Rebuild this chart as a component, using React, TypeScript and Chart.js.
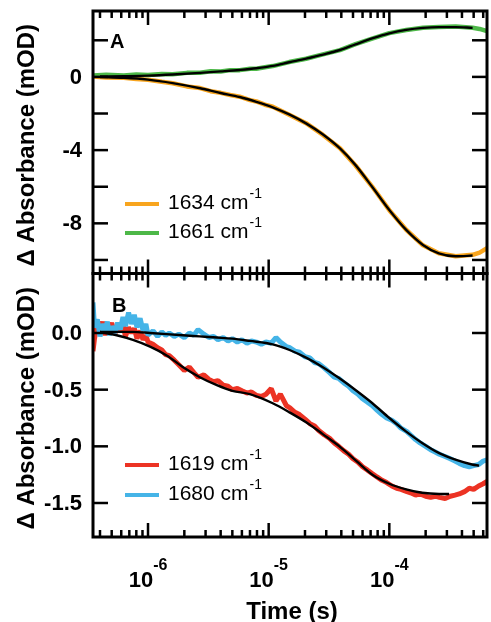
import React, { useEffect, useRef } from "react";
import { Chart, registerables } from "chart.js";
Chart.register(...registerables);

// ---------- axis ranges ----------
const X_MIN = 3.5e-7;
const X_MAX = 6.45e-4;
const Y_A_MIN = -10.74;
const Y_A_MAX = 3.6;
const Y_B_MIN = -1.8;
const Y_B_MAX = 0.525;

// ---------- tick values & labels ----------
const xMajorTicks = [1e-6, 1e-5, 1e-4];
const xMajorExponents = ["-6", "-5", "-4"];
const xMinorTicks = [
  4e-7, 5e-7, 6e-7, 7e-7, 8e-7, 9e-7,
  2e-6, 3e-6, 4e-6, 5e-6, 6e-6, 7e-6, 8e-6, 9e-6,
  2e-5, 3e-5, 4e-5, 5e-5, 6e-5, 7e-5, 8e-5, 9e-5,
  2e-4, 3e-4, 4e-4, 5e-4, 6e-4,
];
const yTicksA = [-10, -8, -6, -4, -2, 0, 2];
const yLabelValuesA = [-8, -4, 0];
const yLabelTextsA = ["-8", "-4", "0"];
const yTicksB = [-1.5, -1.0, -0.5, 0];
const yLabelValuesB = [-1.5, -1.0, -0.5, 0];
const yLabelTextsB = ["-1.5", "-1.0", "-0.5", "0.0"];

// ---------- panel A data ----------
const timeA = [
  3.5e-7, 4.5e-7, 6.3e-7, 8e-7, 1e-6, 1.3e-6, 1.6e-6, 2.1e-6, 2.7e-6, 3.3e-6,
  4e-6, 4.8e-6, 5.75e-6, 7e-6, 7.9e-6, 9.3e-6, 1.08e-5, 1.48e-5, 2.04e-5, 2.82e-5,
  3.9e-5, 5.25e-5, 7.2e-5, 1e-4, 1.38e-4, 1.9e-4, 2.57e-4, 3.55e-4, 4.9e-4, 5.6e-4, 6.45e-4,
];
const data1634 = [
  0.02, -0.03, -0.05, -0.12, -0.16, -0.27, -0.35, -0.52, -0.61, -0.78,
  -0.87, -0.99, -1.08, -1.27, -1.34, -1.52, -1.63, -2.07, -2.53, -3.17,
  -3.9, -4.84, -5.99, -7.28, -8.35, -9.2, -9.63, -9.8, -9.72, -9.6, -9.36,
];
const data1661 = [
  0.08, 0.12, 0.08, 0.13, 0.1, 0.16, 0.15, 0.22, 0.23, 0.31,
  0.3, 0.37, 0.37, 0.44, 0.45, 0.53, 0.59, 0.81, 0.99, 1.23,
  1.46, 1.79, 2.09, 2.39, 2.56, 2.69, 2.72, 2.75, 2.68, 2.62, 2.5,
];
const timeFitA = [
  4e-7, 6.3e-7, 1e-6, 1.6e-6, 2.7e-6, 4e-6, 5.75e-6, 7.9e-6, 1.08e-5, 1.48e-5,
  2.04e-5, 2.82e-5, 3.9e-5, 5.25e-5, 7.2e-5, 1e-4, 1.38e-4, 1.9e-4, 2.57e-4, 3.55e-4, 4.9e-4,
];
const fit1634 = [
  -0.01, -0.05, -0.15, -0.34, -0.62, -0.88, -1.1, -1.36, -1.66, -2.05,
  -2.54, -3.15, -3.91, -4.82, -6.0, -7.27, -8.36, -9.18, -9.64, -9.8, -9.76,
];
const fit1661 = [
  0.02, 0.04, 0.07, 0.13, 0.22, 0.3, 0.38, 0.47, 0.6, 0.8,
  1.0, 1.22, 1.47, 1.78, 2.1, 2.38, 2.57, 2.68, 2.72, 2.72, 2.68,
];

// ---------- panel B data ----------
const timeB = [
  3.5e-7, 3.6e-7, 3.8e-7, 4.0e-7, 4.2e-7, 4.4e-7, 4.6e-7, 4.8e-7, 5.0e-7, 5.3e-7,
  5.6e-7, 5.9e-7, 6.2e-7, 6.5e-7, 6.9e-7, 7.3e-7, 7.7e-7, 8.1e-7, 8.6e-7, 9.1e-7,
  9.6e-7, 1.0e-6, 1.1e-6, 1.2e-6, 1.3e-6, 1.4e-6, 1.5e-6, 1.65e-6, 1.8e-6, 2.0e-6,
  2.2e-6, 2.4e-6, 2.6e-6, 2.9e-6, 3.2e-6, 3.5e-6, 3.8e-6, 4.2e-6, 4.6e-6, 5.0e-6,
  5.5e-6, 6.0e-6, 6.6e-6, 7.2e-6, 7.9e-6, 8.7e-6, 9.5e-6, 1.05e-5, 1.15e-5, 1.25e-5,
  1.4e-5, 1.5e-5, 1.65e-5, 1.8e-5, 2.0e-5, 2.2e-5, 2.4e-5, 2.6e-5, 2.9e-5, 3.2e-5,
  3.5e-5, 3.8e-5, 4.2e-5, 4.6e-5, 5.0e-5, 5.5e-5, 6.0e-5, 6.6e-5, 7.2e-5, 7.9e-5,
  8.7e-5, 9.5e-5, 1.05e-4, 1.15e-4, 1.25e-4, 1.4e-4, 1.5e-4, 1.65e-4, 1.8e-4, 2.0e-4,
  2.2e-4, 2.4e-4, 2.6e-4, 2.9e-4, 3.2e-4, 3.5e-4, 3.8e-4, 4.2e-4, 4.6e-4, 5.0e-4,
  5.5e-4, 6.0e-4, 6.45e-4,
];
const data1680 = [
  0.27, 0.05, 0.12, -0.03, 0.08, 0.02, 0.1, -0.02, 0.06, 0.0,
  0.09, 0.03, 0.14, 0.06, 0.18, 0.08, 0.16, 0.05, 0.13, 0.02,
  0.08, -0.02, 0.02, -0.03, 0.01, -0.02, 0.0, -0.03, -0.01, -0.04,
  0.0, -0.02, 0.03, -0.01, -0.04, -0.03, -0.06, -0.04, -0.07, -0.05,
  -0.08, -0.06, -0.09, -0.07, -0.08, -0.1, -0.08, -0.09, -0.04, -0.08,
  -0.12, -0.13, -0.16, -0.17, -0.21, -0.22, -0.26, -0.27, -0.31, -0.35,
  -0.39, -0.4, -0.44, -0.47, -0.51, -0.54, -0.58, -0.61, -0.64, -0.68,
  -0.72, -0.75, -0.77, -0.8, -0.84, -0.87, -0.9, -0.94, -0.97, -1.0,
  -1.03, -1.05, -1.07, -1.09, -1.11, -1.13, -1.15, -1.17, -1.18, -1.17,
  -1.16, -1.13, -1.12,
];
const data1619 = [
  -0.16, -0.05, 0.08, 0.02, 0.1, -0.02, 0.07, 0.03, 0.09, -0.01,
  0.06, 0.02, 0.08, -0.03, 0.05, 0.0, 0.04, -0.05, 0.02, -0.06,
  -0.02, -0.08, -0.1, -0.13, -0.15, -0.19, -0.2, -0.24, -0.28, -0.33,
  -0.3, -0.35, -0.39, -0.37, -0.41, -0.43, -0.42, -0.46, -0.47, -0.5,
  -0.49, -0.51, -0.53, -0.52, -0.55, -0.56, -0.54, -0.49, -0.6, -0.54,
  -0.64, -0.66, -0.7, -0.72, -0.76, -0.8, -0.82, -0.86, -0.9, -0.93,
  -0.97, -1.0, -1.04, -1.07, -1.11, -1.14, -1.18, -1.21, -1.24, -1.27,
  -1.3, -1.32, -1.35, -1.37, -1.38, -1.4, -1.41, -1.43, -1.42, -1.44,
  -1.45, -1.44, -1.45, -1.46, -1.44, -1.43, -1.42, -1.4, -1.37, -1.38,
  -1.35, -1.33, -1.31,
];
const timeFit1619 = [
  4.0e-7, 5.5e-7, 7.5e-7, 1.04e-6, 1.44e-6, 1.94e-6, 2.69e-6, 3.72e-6, 5.0e-6, 6.97e-6,
  1.08e-5, 1.49e-5, 2.06e-5, 2.79e-5, 3.86e-5, 5.34e-5, 7.24e-5, 1.0e-4, 1.38e-4, 1.87e-4,
  2.59e-4, 3.13e-4,
];
const fit1619 = [
  0.01, -0.02, -0.06, -0.12, -0.2, -0.3, -0.39, -0.46, -0.51, -0.54,
  -0.62, -0.7, -0.79, -0.89, -1.0, -1.13, -1.25, -1.33, -1.38, -1.41,
  -1.42, -1.42,
];
const timeFit1680 = [
  4.0e-7, 7.5e-7, 1.04e-6, 1.94e-6, 2.69e-6, 3.72e-6, 5.0e-6, 6.97e-6, 1.08e-5, 1.49e-5,
  2.06e-5, 2.79e-5, 3.86e-5, 5.34e-5, 7.24e-5, 1.0e-4, 1.38e-4, 1.87e-4, 2.59e-4, 3.58e-4,
  4.85e-4, 5.55e-4,
];
const fit1680 = [
  0.01, 0.01, 0.0, -0.02, -0.03, -0.04, -0.05, -0.07, -0.1, -0.15,
  -0.22, -0.3, -0.4, -0.51, -0.62, -0.75, -0.87, -0.97, -1.06, -1.12,
  -1.16, -1.17,
];

const Y_TITLE = "Δ Absorbance (mOD)";
const X_TITLE = "Time (s)";
const FONT = '"Liberation Sans", Arial, Helvetica, sans-serif';

const ORANGE = "#F8A51E";
const GREEN = "#4DB848";
const RED = "#EC3324";
const BLUE = "#45B4E7";

const pts = (xs: number[], ys: number[]) => xs.map((x, i) => ({ x, y: ys[i] }));

type LegendItem = { label: string; color: string; y: number };
type PanelCfg = {
  id: string;
  letter: string;
  letterX: number;
  letterY: number;
  yTicks: number[];
  yLabelValues: number[];
  yLabelTexts: string[];
  legend: LegendItem[];
  showXLabels: boolean;
};

function panelPlugin(cfg: PanelCfg) {
  return {
    id: cfg.id,
    afterDraw(chart: any) {
      const { ctx, chartArea: a, scales } = chart;
      const xs = scales.x;
      const ys = scales.y;
      ctx.save();
      ctx.strokeStyle = "#000";
      ctx.fillStyle = "#000";
      ctx.lineCap = "butt";
      const line = (x1: number, y1: number, x2: number, y2: number) => {
        ctx.beginPath();
        ctx.moveTo(x1, y1);
        ctx.lineTo(x2, y2);
        ctx.stroke();
      };
      // x ticks (inward, top and bottom)
      ctx.lineWidth = 2.5;
      for (const v of xMajorTicks) {
        const px = xs.getPixelForValue(v);
        line(px, a.top, px, a.top + 14);
        line(px, a.bottom, px, a.bottom - 14);
      }
      for (const v of xMinorTicks) {
        const px = xs.getPixelForValue(v);
        line(px, a.top, px, a.top + 7);
        line(px, a.bottom, px, a.bottom - 7);
      }
      // y ticks (inward, left and right)
      for (const v of cfg.yTicks) {
        const py = ys.getPixelForValue(v);
        line(a.left, py, a.left + 15, py);
        line(a.right, py, a.right - 15, py);
      }
      // frame
      ctx.lineWidth = 3;
      ctx.strokeRect(a.left, a.top, a.right - a.left, a.bottom - a.top);

      // y tick labels
      ctx.font = `bold 22px ${FONT}`;
      ctx.textAlign = "right";
      ctx.textBaseline = "middle";
      cfg.yLabelValues.forEach((v, i) => {
        ctx.fillText(cfg.yLabelTexts[i], 82, ys.getPixelForValue(v) + 1);
      });

      // y title
      ctx.save();
      ctx.translate(27, (a.top + a.bottom) / 2 + 3);
      ctx.rotate(-Math.PI / 2);
      ctx.textAlign = "center";
      ctx.textBaseline = "middle";
      ctx.font = `bold 24px ${FONT}`;
      ctx.fillText(Y_TITLE, 0, 0);
      ctx.restore();

      // panel letter
      ctx.textAlign = "left";
      ctx.textBaseline = "alphabetic";
      ctx.font = `bold 20px ${FONT}`;
      ctx.fillText(cfg.letter, cfg.letterX, cfg.letterY);

      // legend
      for (const it of cfg.legend) {
        ctx.strokeStyle = it.color;
        ctx.lineWidth = 4;
        line(125, it.y, 159, it.y);
        ctx.fillStyle = "#000";
        ctx.font = `21px ${FONT}`;
        ctx.textAlign = "left";
        ctx.textBaseline = "alphabetic";
        ctx.fillText(it.label, 168, it.y + 5);
        const w = ctx.measureText(it.label).width;
        ctx.font = `14px ${FONT}`;
        ctx.fillText("-1", 168 + w + 1, it.y - 6);
      }

      // x tick labels and title
      if (cfg.showXLabels) {
        ctx.fillStyle = "#000";
        xMajorTicks.forEach((v, i) => {
          const px = xs.getPixelForValue(v);
          ctx.font = `bold 22px ${FONT}`;
          const w10 = ctx.measureText("10").width;
          ctx.font = `bold 16px ${FONT}`;
          const we = ctx.measureText(xMajorExponents[i]).width;
          const start = px - (w10 + we) / 2;
          ctx.textAlign = "left";
          ctx.textBaseline = "alphabetic";
          ctx.font = `bold 22px ${FONT}`;
          ctx.fillText("10", start, a.bottom + 50);
          ctx.font = `bold 16px ${FONT}`;
          ctx.fillText(xMajorExponents[i], start + w10, a.bottom + 33);
        });
        ctx.font = `bold 24px ${FONT}`;
        ctx.textAlign = "center";
        ctx.fillText(X_TITLE, (a.left + a.right) / 2 + 2, a.bottom + 82);
      }
      ctx.restore();
    },
  };
}

function makeChart(
  canvas: HTMLCanvasElement,
  datasets: any[],
  yMin: number,
  yMax: number,
  padding: any,
  plugin: any
) {
  return new Chart(canvas, {
    type: "line",
    data: { datasets },
    options: {
      animation: false,
      responsive: false,
      events: [],
      layout: { padding },
      plugins: { legend: { display: false }, tooltip: { enabled: false }, title: { display: false } },
      elements: { point: { radius: 0 } },
      scales: {
        x: { type: "logarithmic", min: X_MIN, max: X_MAX, display: false },
        y: { type: "linear", min: yMin, max: yMax, display: false },
      },
    },
    plugins: [plugin],
  } as any);
}

const dataLine = (d: any[], color: string, order: number, width: number) => ({
  data: d,
  borderColor: color,
  borderWidth: width,
  pointRadius: 0,
  tension: 0,
  order,
  clip: 0,
  borderJoinStyle: "bevel",
});
const fitLine = (d: any[]) => ({
  data: d,
  borderColor: "#000",
  borderWidth: 2.4,
  pointRadius: 0,
  cubicInterpolationMode: "monotone",
  order: 0,
  clip: 0,
});

export default function App() {
  const refA = useRef<HTMLCanvasElement>(null);
  const refB = useRef<HTMLCanvasElement>(null);

  useEffect(() => {
    const chartA = makeChart(
      refA.current!,
      [
        fitLine(pts(timeFitA, fit1634)),
        fitLine(pts(timeFitA, fit1661)),
        dataLine(pts(timeA, data1661), GREEN, 1, 4.5),
        dataLine(pts(timeA, data1634), ORANGE, 2, 4.5),
      ],
      Y_A_MIN,
      Y_A_MAX,
      { left: 93, top: 11, right: 4, bottom: 26.5 },
      panelPlugin({
        id: "panelA",
        letter: "A",
        letterX: 110,
        letterY: 48,
        yTicks: yTicksA,
        yLabelValues: yLabelValuesA,
        yLabelTexts: yLabelTextsA,
        legend: [
          { label: "1634 cm", color: ORANGE, y: 204 },
          { label: "1661 cm", color: GREEN, y: 233 },
        ],
        showXLabels: false,
      })
    );
    const chartB = makeChart(
      refB.current!,
      [
        fitLine(pts(timeFit1619, fit1619)),
        fitLine(pts(timeFit1680, fit1680)),
        dataLine(pts(timeB, data1680), BLUE, 1, 5),
        dataLine(pts(timeB, data1619), RED, 2, 5),
      ],
      Y_B_MIN,
      Y_B_MAX,
      { left: 93, top: 13.5, right: 4, bottom: 85 },
      panelPlugin({
        id: "panelB",
        letter: "B",
        letterX: 112,
        letterY: 312 - 260,
        yTicks: yTicksB,
        yLabelValues: yLabelValuesB,
        yLabelTexts: yLabelTextsB,
        legend: [
          { label: "1619 cm", color: RED, y: 465 - 260 },
          { label: "1680 cm", color: BLUE, y: 495 - 260 },
        ],
        showXLabels: true,
      })
    );
    return () => {
      chartA.destroy();
      chartB.destroy();
    };
  }, []);

  return (
    <div style={{ position: "absolute", left: 0, top: 0, width: 491, height: 622, background: "#fff", overflow: "hidden" }}>
      <canvas ref={refA} width={491} height={300} style={{ position: "absolute", left: 0, top: 0, width: 491, height: 300 }} />
      <canvas ref={refB} width={491} height={362} style={{ position: "absolute", left: 0, top: 260, width: 491, height: 362 }} />
    </div>
  );
}
